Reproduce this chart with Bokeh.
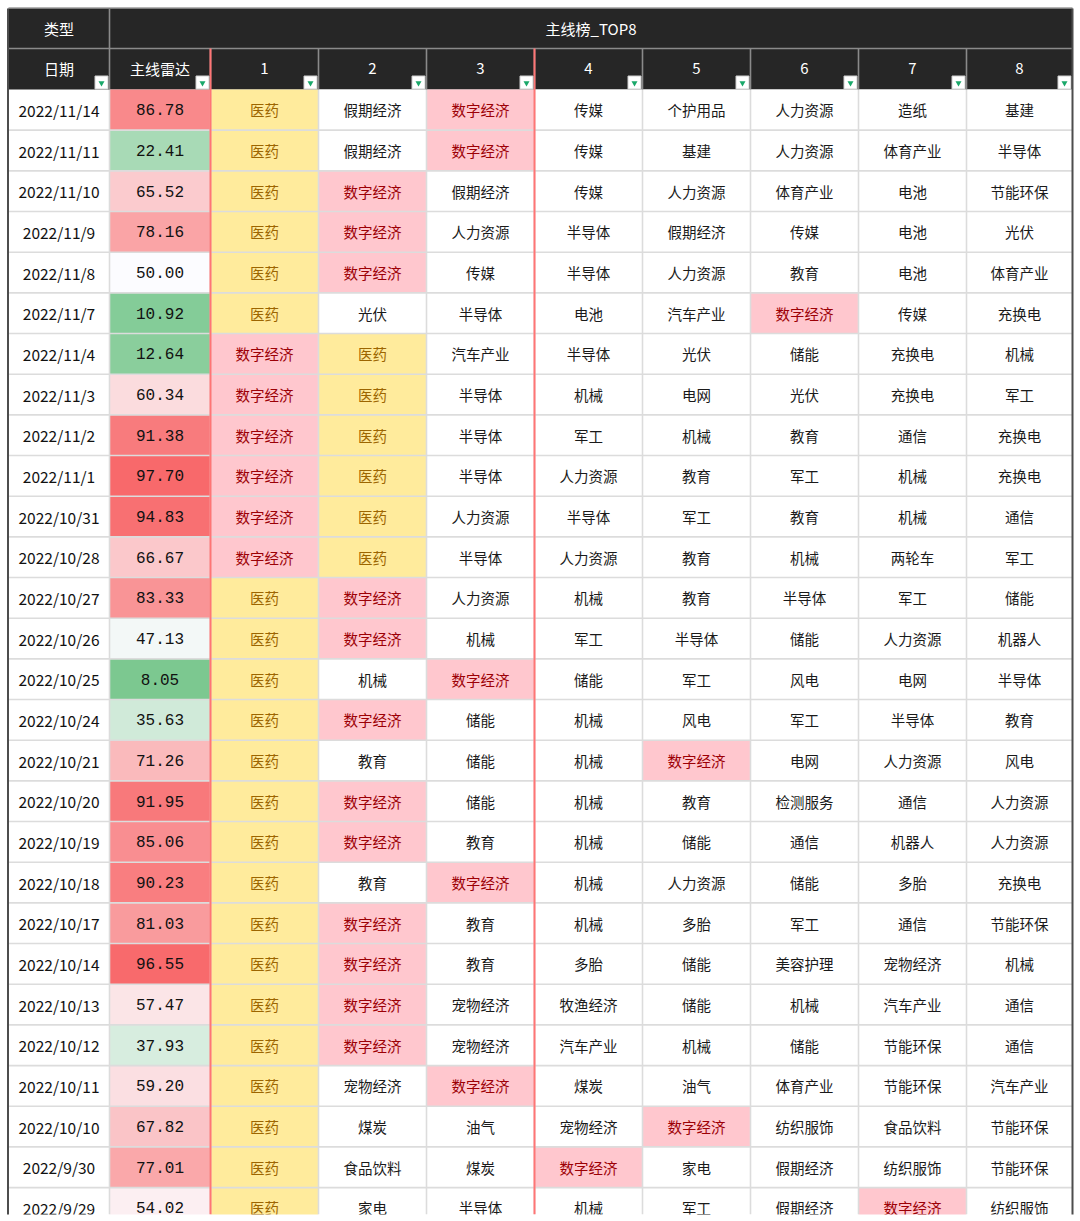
from bokeh.plotting import figure
from bokeh.models import Range1d, ColumnDataSource
from bokeh.embed import file_html
from bokeh.resources import INLINE
from bokeh.core.properties import value

# ---------------- data ----------------
dates = ["2022/11/14", "2022/11/11", "2022/11/10", "2022/11/9", "2022/11/8", "2022/11/7",
         "2022/11/4", "2022/11/3", "2022/11/2", "2022/11/1", "2022/10/31", "2022/10/28",
         "2022/10/27", "2022/10/26", "2022/10/25", "2022/10/24", "2022/10/21", "2022/10/20",
         "2022/10/19", "2022/10/18", "2022/10/17", "2022/10/14", "2022/10/13", "2022/10/12",
         "2022/10/11", "2022/10/10", "2022/9/30", "2022/9/29"]
radar = [86.78, 22.41, 65.52, 78.16, 50.00, 10.92, 12.64, 60.34, 91.38, 97.70, 94.83, 66.67,
         83.33, 47.13, 8.05, 35.63, 71.26, 91.95, 85.06, 90.23, 81.03, 96.55, 57.47, 37.93,
         59.20, 67.82, 77.01, 54.02]
rank1 = ["医药", "医药", "医药", "医药", "医药", "医药", "数字经济", "数字经济", "数字经济", "数字经济",
         "数字经济", "数字经济", "医药", "医药", "医药", "医药", "医药", "医药", "医药", "医药", "医药",
         "医药", "医药", "医药", "医药", "医药", "医药", "医药"]
rank2 = ["假期经济", "假期经济", "数字经济", "数字经济", "数字经济", "光伏", "医药", "医药", "医药", "医药",
         "医药", "医药", "数字经济", "数字经济", "机械", "数字经济", "教育", "数字经济", "数字经济", "教育",
         "数字经济", "数字经济", "数字经济", "数字经济", "宠物经济", "煤炭", "食品饮料", "家电"]
rank3 = ["数字经济", "数字经济", "假期经济", "人力资源", "传媒", "半导体", "汽车产业", "半导体", "半导体",
         "半导体", "人力资源", "半导体", "人力资源", "机械", "数字经济", "储能", "储能", "储能", "教育",
         "数字经济", "教育", "教育", "宠物经济", "宠物经济", "数字经济", "油气", "煤炭", "半导体"]
rank4 = ["传媒", "传媒", "传媒", "半导体", "半导体", "电池", "半导体", "机械", "军工", "人力资源", "半导体",
         "人力资源", "机械", "军工", "储能", "机械", "机械", "机械", "机械", "机械", "机械", "多胎", "牧渔经济",
         "汽车产业", "煤炭", "宠物经济", "数字经济", "机械"]
rank5 = ["个护用品", "基建", "人力资源", "假期经济", "人力资源", "汽车产业", "光伏", "电网", "机械", "教育",
         "军工", "教育", "教育", "半导体", "军工", "风电", "数字经济", "教育", "储能", "人力资源", "多胎",
         "储能", "储能", "机械", "油气", "数字经济", "家电", "军工"]
rank6 = ["人力资源", "人力资源", "体育产业", "传媒", "教育", "数字经济", "储能", "光伏", "教育", "军工", "教育",
         "机械", "半导体", "储能", "风电", "军工", "电网", "检测服务", "通信", "储能", "军工", "美容护理", "机械",
         "储能", "体育产业", "纺织服饰", "假期经济", "假期经济"]
rank7 = ["造纸", "体育产业", "电池", "电池", "电池", "传媒", "充换电", "充换电", "通信", "机械", "机械",
         "两轮车", "军工", "人力资源", "电网", "半导体", "人力资源", "通信", "机器人", "多胎", "通信", "宠物经济",
         "汽车产业", "节能环保", "节能环保", "食品饮料", "纺织服饰", "数字经济"]
rank8 = ["基建", "半导体", "节能环保", "光伏", "体育产业", "充换电", "机械", "军工", "充换电", "充换电", "通信",
         "军工", "储能", "机器人", "半导体", "教育", "风电", "人力资源", "人力资源", "充换电", "节能环保", "机械",
         "通信", "通信", "汽车产业", "节能环保", "节能环保", "纺织服饰"]
ranks = [rank1, rank2, rank3, rank4, rank5, rank6, rank7, rank8]
header_top = ["类型", "主线榜_TOP8"]
header_cols = ["日期", "主线雷达", "1", "2", "3", "4", "5", "6", "7", "8"]

# ---------------- layout / style ----------------
W, H = 1080, 1221
X0, Y0 = 8, 8            # table top-left inside the canvas
X_END = 1072             # right border
Y_END = 1214             # visible bottom of the table
col_w = [101, 101, 108, 108, 108, 108, 108, 108, 108, 106]
h1, h2, row_h = 40, 41, 40.67
HEAD_BG = "#262626"
GRID = "#dcdcdc"
HEAD_SEP = "#8a8a8a"
RED_LINE = "#ff7575"
CJK = "Noto Sans CJK SC"
MONO = "Liberation Mono"

col_x = [X0]
for w in col_w:
    col_x.append(col_x[-1] + w)


def radar_color(v):
    mid = (252, 252, 255)
    if v >= 50:
        t = min((v - 50) / 47.0, 1.0)
        end = (248, 105, 107)
    else:
        t = min((50 - v) / 50.0, 1.0)
        end = (99, 190, 123)
    c = [round(mid[i] + (end[i] - mid[i]) * t) for i in range(3)]
    return "#%02x%02x%02x" % tuple(c)


def cell_style(name):
    if name == "医药":
        return "#ffeb9c", "#9c6500"
    if name == "数字经济":
        return "#ffc7ce", "#9c0006"
    return "#ffffff", "#1a1a1a"


p = figure(width=W, height=H, x_range=Range1d(0, W), y_range=Range1d(H, 0),
           output_backend="svg", toolbar_location=None, min_border=0)
p.min_border_left = p.min_border_right = p.min_border_top = p.min_border_bottom = 0
p.axis.visible = False
p.grid.visible = False
p.outline_line_color = None
p.background_fill_color = "#ffffff"
p.border_fill_color = "#ffffff"

# header backgrounds
p.quad(left=[X0, X0], right=[X_END, X_END], top=[Y0, Y0 + h1], bottom=[Y0 + h1, Y0 + h1 + h2],
       fill_color=HEAD_BG, line_color=None)

# data cells
L, R, T, B, FC = [], [], [], [], []
dx, dy = [], []
nx, ny, nt = [], [], []
tx, ty, tt, tc = [], [], [], []
n = len(dates)
y_body0 = Y0 + h1 + h2
for i in range(n):
    top = y_body0 + i * row_h
    bot = top + row_h
    ym = (top + bot) / 2
    dx.append((col_x[0] + col_x[1]) / 2); dy.append(ym)
    L.append(col_x[1]); R.append(col_x[2]); T.append(top); B.append(bot); FC.append(radar_color(radar[i]))
    nx.append((col_x[1] + col_x[2]) / 2); ny.append(ym); nt.append("%.2f" % radar[i])
    for k in range(8):
        name = ranks[k][i]
        fill, color = cell_style(name)
        L.append(col_x[2 + k]); R.append(col_x[3 + k]); T.append(top); B.append(bot); FC.append(fill)
        tx.append((col_x[2 + k] + col_x[3 + k]) / 2); ty.append(ym); tt.append(name); tc.append(color)

p.quad(source=ColumnDataSource(dict(left=L, right=R, top=T, bottom=B, fill=FC)),
       left="left", right="right", top="top", bottom="bottom", fill_color="fill", line_color=None)

# grid lines (data area)
gx0, gy0, gx1, gy1 = [], [], [], []
for i in range(1, n + 1):
    y = y_body0 + i * row_h
    gx0.append(X0); gx1.append(X_END); gy0.append(y); gy1.append(y)
for j in range(1, len(col_x) - 1):
    gx0.append(col_x[j]); gx1.append(col_x[j]); gy0.append(y_body0); gy1.append(Y_END)
p.segment(x0=gx0, y0=gy0, x1=gx1, y1=gy1, line_color=GRID, line_width=1.6)

# header separators
inner = [col_x[j] for j in range(1, len(col_x) - 1)]
hx0 = [X0, col_x[1]] + inner
hy0 = [Y0 + h1, Y0] + [Y0 + h1] * len(inner)
hx1 = [X_END, col_x[1]] + inner
hy1 = [Y0 + h1, Y0 + h1] + [y_body0] * len(inner)
p.segment(x0=hx0, y0=hy0, x1=hx1, y1=hy1, line_color=HEAD_SEP, line_width=1.6)

# red separators
p.segment(x0=[col_x[2], col_x[5]], y0=[Y0 + h1] * 2, x1=[col_x[2], col_x[5]], y1=[Y_END] * 2,
          line_color=RED_LINE, line_width=2)

# filter buttons
bx = [col_x[j + 1] - 8 for j in range(len(header_cols))]
by = [y_body0 - 7] * len(header_cols)
p.rect(x=bx, y=by, width=13, height=13, fill_color="#ffffff", line_color="#cfcfcf", line_width=1)
p.scatter(x=bx, y=[v + 0.5 for v in by], marker="inverted_triangle", size=6,
          fill_color="#1aa86a", line_color=None)

# header texts
p.text(x=[(col_x[0] + col_x[1]) / 2, (col_x[1] + X_END) / 2], y=[Y0 + h1 / 2] * 2, text=header_top,
       text_color="#ffffff", text_font=value(CJK), text_font_size="15px",
       text_align="center", text_baseline="middle")
p.text(x=[(col_x[j] + col_x[j + 1]) / 2 for j in range(len(header_cols))],
       y=[Y0 + h1 + h2 / 2 - 1] * len(header_cols), text=header_cols,
       text_color="#ffffff", text_font=value(CJK), text_font_size="15px",
       text_align="center", text_baseline="middle")

# date texts
p.text(x=dx, y=dy, text=dates, text_color="#111111", text_font=value(CJK), text_font_size="15.5px",
       text_align="center", text_baseline="middle")
# radar value texts
p.text(x=nx, y=ny, text=nt, text_color="#111111", text_font=value(MONO), text_font_size="16px",
       text_align="center", text_baseline="middle")
# sector texts
p.text(source=ColumnDataSource(dict(x=tx, y=ty, t=tt, c=tc)), x="x", y="y", text="t",
       text_color="c", text_font=value(CJK), text_font_size="14.5px",
       text_align="center", text_baseline="middle")

# white mask below the visible part of the table
p.quad(left=[0], right=[W], top=[Y_END], bottom=[H], fill_color="#ffffff", line_color=None)

# outer borders
p.segment(x0=[X0 - 0.5, X_END], y0=[Y0, Y0], x1=[X0 - 0.5, X_END], y1=[Y_END, Y_END],
          line_color="#4d4d4d", line_width=2)
p.segment(x0=[X0], y0=[Y0 - 0.5], x1=[X_END], y1=[Y0 - 0.5], line_color="#6a6a6a", line_width=1)

open("out.html", "w").write(file_html(p, INLINE))
